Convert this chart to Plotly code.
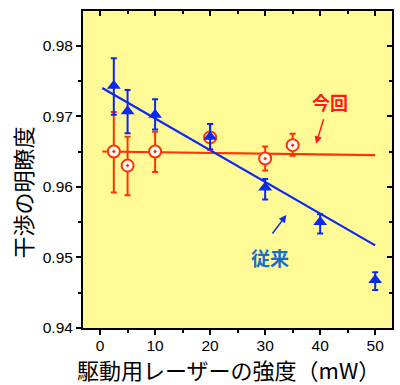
import plotly.graph_objects as go

# Data
conv_x = [2.5, 5, 10, 20, 30, 40, 50]
conv_y = [0.9743, 0.9707, 0.9702, 0.9671, 0.9599, 0.9550, 0.9468]
conv_err_plus = [0.0039, 0.0030, 0.0022, 0.0018, 0.0012, 0.0011, 0.0011]
conv_err_minus = [0.0041, 0.0031, 0.0021, 0.0018, 0.0017, 0.0016, 0.0014]

new_x = [2.5, 5, 10, 20, 30, 35]
new_y = [0.9650, 0.9630, 0.9650, 0.9670, 0.9640, 0.9659]
new_err_plus = [0.0056, 0.0041, 0.0028, 0.0019, 0.0017, 0.0016]
new_err_minus = [0.0058, 0.0042, 0.0029, 0.0017, 0.0017, 0.0015]

fit_x = [0.4, 50]
conv_fit_y = [0.9740, 0.9517]
new_fit_y = [0.9650, 0.9645]

RED = "#ff3300"
BLUE = "#0a28f0"
BG = "#fffa96"

fig = go.Figure()

fig.add_trace(go.Scatter(x=fit_x, y=new_fit_y, mode="lines",
                         line=dict(color=RED, width=2.2), hoverinfo="skip"))
fig.add_trace(go.Scatter(x=fit_x, y=conv_fit_y, mode="lines",
                         line=dict(color=BLUE, width=2.2), hoverinfo="skip"))

fig.add_trace(go.Scatter(
    x=new_x, y=new_y, mode="markers",
    marker=dict(symbol="circle-dot", size=12, color="white",
                line=dict(color=RED, width=2)),
    error_y=dict(type="data", symmetric=False, array=new_err_plus,
                 arrayminus=new_err_minus, color=RED, thickness=2, width=3),
))
fig.add_trace(go.Scatter(
    x=conv_x, y=conv_y, mode="markers",
    marker=dict(symbol="triangle-up", size=12, color=BLUE,
                line=dict(color=BLUE, width=0)),
    error_y=dict(type="data", symmetric=False, array=conv_err_plus,
                 arrayminus=conv_err_minus, color=BLUE, thickness=2, width=3),
))

XR = [-3.1, 53.05]
YR = [0.94, 0.9849]
tickfont = dict(family="Liberation Sans, Arial, sans-serif", size=15.5, color="black")

fig.update_layout(
    width=400, height=385,
    margin=dict(l=83, r=6, t=11, b=57),
    paper_bgcolor="white",
    plot_bgcolor=BG,
    showlegend=False,
    xaxis=dict(range=XR, tickvals=[0, 10, 20, 30, 40, 50], ticks="outside",
               ticklen=5, tickwidth=1.5, tickcolor="black",
               ticklabelstandoff=-3,
               minor=dict(tickvals=[5, 15, 25, 35, 45], ticks="outside",
                          ticklen=3, tickwidth=1.5, tickcolor="black"),
               showline=True, linecolor="black", linewidth=2, mirror=True,
               showgrid=False, zeroline=False, tickfont=tickfont),
    yaxis=dict(range=YR, tickvals=[0.94, 0.95, 0.96, 0.97, 0.98],
               ticktext=["0.94", "0.95", "0.96", "0.97", "0.98"],
               ticks="outside", ticklen=5, tickwidth=1.5, tickcolor="black",
               minor=dict(tickvals=[0.945, 0.955, 0.965, 0.975], ticks="outside",
                          ticklen=3, tickwidth=1.5, tickcolor="black"),
               showline=True, linecolor="black", linewidth=2, mirror=True,
               showgrid=False, zeroline=False, tickfont=tickfont),
    xaxis2=dict(range=XR, overlaying="x", side="top",
                tickvals=[0, 10, 20, 30, 40, 50], ticks="inside", ticklen=5,
                tickwidth=1.5, tickcolor="black", showticklabels=False,
                minor=dict(tickvals=[5, 15, 25, 35, 45], ticks="inside",
                           ticklen=3, tickwidth=1.5, tickcolor="black"),
                showgrid=False, zeroline=False, showline=False),
    yaxis2=dict(range=YR, overlaying="y", side="right",
                tickvals=[0.94, 0.95, 0.96, 0.97, 0.98], ticks="inside",
                ticklen=5, tickwidth=1.5, tickcolor="black", showticklabels=False,
                minor=dict(tickvals=[0.945, 0.955, 0.965, 0.975], ticks="inside",
                           ticklen=3, tickwidth=1.5, tickcolor="black"),
                showgrid=False, zeroline=False, showline=False),
)

# dummy trace to activate secondary axes
fig.add_trace(go.Scatter(x=[None], y=[None], xaxis="x2", yaxis="y2",
                         showlegend=False, hoverinfo="skip"))

cjk = "Noto Sans CJK JP"
fig.add_annotation(text="駆動用レーザーの強度（mW）", xref="paper", yref="paper",
                   x=(229 - 83) / 311, y=-(369 - 328) / 317,
                   xanchor="center", yanchor="middle", showarrow=False,
                   font=dict(family=cjk, size=22, color="black"))
fig.add_annotation(text="干渉の明瞭度", xref="paper", yref="paper",
                   x=-(83 - 22) / 311, y=(328 - 192) / 317, textangle=-90,
                   xanchor="center", yanchor="middle", showarrow=False,
                   font=dict(family=cjk, size=22, color="black"))

fig.add_annotation(text="<b>今回</b>", x=41.77, y=0.9720, showarrow=False,
                   font=dict(family=cjk, size=18, color="#ff1a1a"))
fig.add_annotation(text="<b>従来</b>", x=30.8, y=0.9500, showarrow=False,
                   font=dict(family=cjk, size=19, color="#1a6ec8"))

fig.add_annotation(text="", x=39.25, y=0.9661, ax=8, ay=-26, showarrow=True,
                   arrowhead=2, arrowsize=1, arrowwidth=1.5, arrowcolor="#ff1a1a")
fig.add_annotation(text="", x=33.85, y=0.9560, ax=-15, ay=20, showarrow=True,
                   arrowhead=2, arrowsize=1, arrowwidth=1.5, arrowcolor=BLUE)

fig.write_html("out.html",
               config={"displayModeBar": False},
               post_script="document.body.style.margin='0';document.body.style.overflow='hidden';")
